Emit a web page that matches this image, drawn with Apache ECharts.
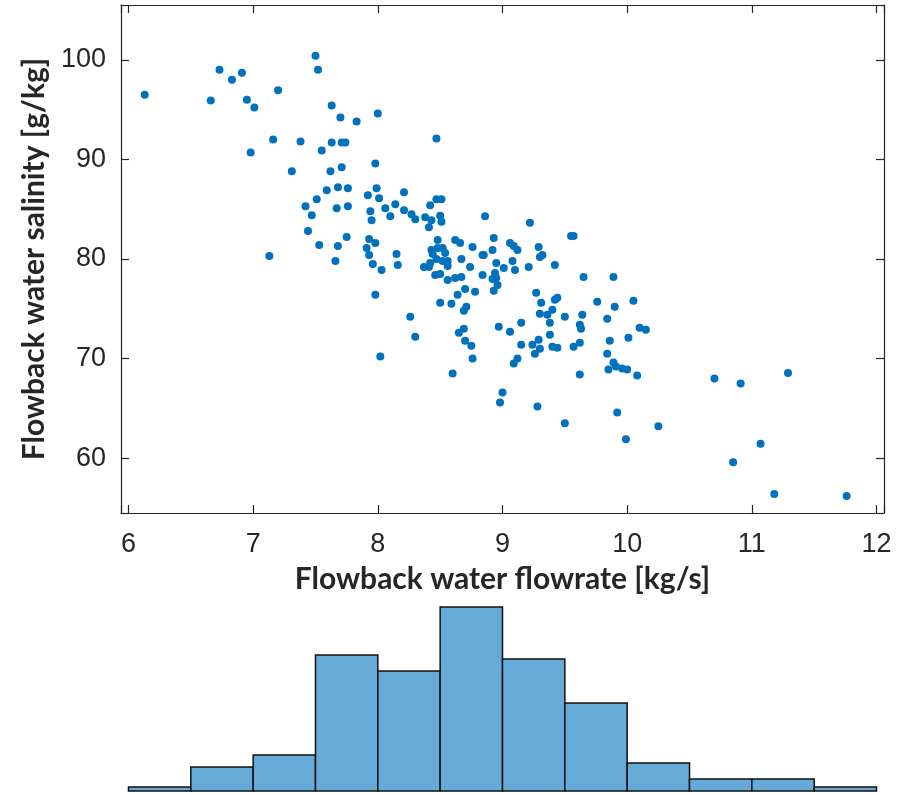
<!DOCTYPE html>
<html lang="en">
<head>
  <meta charset="utf-8">
  <title>Flowback water salinity vs flowrate</title>
  <script src="https://cdn.jsdelivr.net/npm/echarts@6/dist/echarts.min.js"></script>
  <style>
    html, body { margin: 0; padding: 0; background: #fff; }
    #chart { width: 915px; height: 794px; }
  </style>
</head>
<body>
<div id="chart"></div>
<script type="text/javascript">

  // flowrate [kg/s] and salinity [g/kg] of each sample
  const flowrate = [
    6.13, 6.73, 6.83, 6.91, 6.66, 6.95, 7.01, 7.20, 6.98, 7.16, 7.50, 7.52, 7.63, 7.70, 7.83, 8.00,
    7.38, 7.55, 7.63, 7.71, 7.74, 7.31, 7.62, 7.71, 7.98, 7.59, 7.68, 7.76, 7.99, 7.92, 8.01, 7.51,
    7.42, 7.47, 7.67, 7.76, 7.94, 7.95, 7.44, 7.53, 7.68, 7.75, 7.93, 7.98, 7.91, 7.93, 7.13, 7.66,
    8.47, 8.21, 8.06, 8.14, 8.10, 8.21, 8.27, 8.30, 8.47, 8.51, 8.42, 8.38, 8.43, 8.41, 8.50, 8.51,
    8.86, 9.22, 7.96, 8.03, 7.98, 8.15, 8.16, 8.48, 8.43, 8.48, 8.52, 8.54, 8.44, 8.47, 8.52, 8.56,
    8.56, 8.37, 8.41, 8.42, 8.46, 8.50, 8.56, 8.62, 8.66, 8.76, 8.67, 8.74, 8.62, 8.67, 8.84, 8.85,
    8.84, 8.92, 8.93, 9.06, 9.09, 9.12, 8.95, 9.01, 8.94, 8.95, 8.92, 8.96, 8.93, 9.08, 9.10, 9.21,
    9.29, 9.30, 9.32, 9.42, 8.70, 8.64, 8.59, 8.50, 8.78, 8.71, 8.69, 8.26, 8.30, 8.02, 8.65, 8.69,
    8.70, 8.75, 8.76, 8.97, 9.06, 9.15, 9.15, 9.12, 9.27, 9.31, 9.30, 9.36, 9.40, 9.42, 9.44, 9.38,
    9.38, 9.40, 9.44, 9.24, 9.29, 9.30, 9.26,
    9.65, 9.89, 9.55, 9.57, 9.76, 9.90, 10.05, 9.84, 9.64, 9.50, 9.62, 9.63, 10.10, 10.15, 10.01, 9.86,
    9.62, 9.57, 9.84, 9.89, 9.91, 9.96, 10.00, 9.85, 10.08, 9.62, 9.00, 8.98, 9.28, 9.50, 9.92, 10.25,
    9.99, 8.60, 9.09,
    10.70, 10.91, 11.29, 11.07, 10.85, 11.18, 11.76
  ];
  const salinity = [
    96.5, 99.0, 98.0, 98.7, 95.9, 96.0, 95.2, 96.95, 90.7, 92.0, 100.4, 99.0, 95.4, 94.2, 93.8, 94.6,
    91.8, 90.9, 91.7, 91.7, 91.7, 88.8, 88.8, 89.2, 89.6, 86.9, 87.2, 87.1, 87.1, 86.4, 86.1, 86.0,
    85.3, 84.4, 85.1, 85.3, 84.8, 83.9, 82.8, 81.4, 81.3, 82.2, 82.0, 81.6, 81.1, 80.4, 80.3, 79.8,
    92.1, 86.7, 85.1, 85.5, 84.3, 84.9, 84.5, 84.0, 86.0, 86.0, 85.4, 84.2, 83.9, 83.2, 84.35, 83.75,
    84.3, 83.65, 79.5, 78.9, 76.4, 80.5, 79.4, 81.9, 80.9, 81.1, 81.1, 80.6, 80.5, 80.0, 79.8, 79.8,
    79.3, 79.2, 79.2, 79.6, 78.4, 78.5, 77.9, 81.9, 81.6, 81.2, 80.0, 79.2, 78.1, 78.2, 80.4, 80.4,
    78.4, 80.9, 82.1, 81.6, 81.3, 80.9, 79.6, 79.1, 78.6, 78.1, 78.0, 77.4, 76.8, 79.8, 78.9, 79.2,
    81.2, 80.2, 80.4, 79.4, 77.0, 76.4, 75.5, 75.6, 76.7, 75.2, 74.8, 74.2, 72.2, 70.2, 72.6, 73.0,
    71.8, 71.3, 70.0, 73.2, 72.7, 73.6, 71.4, 70.0, 76.6, 75.6, 74.5, 74.4, 74.9, 75.9, 76.1, 73.6,
    72.4, 71.2, 71.1, 71.4, 71.9, 71.0, 70.5,
    78.2, 78.2, 82.3, 82.3, 75.7, 75.2, 75.8, 74.0, 74.4, 74.2, 73.4, 73.0, 73.1, 72.9, 72.1, 71.8,
    71.6, 71.2, 70.5, 69.6, 69.2, 69.0, 68.9, 68.9, 68.3, 68.4, 66.6, 65.6, 65.2, 63.5, 64.6, 63.2,
    61.9, 68.5, 69.5,
    68.0, 67.5, 68.55, 61.45, 59.6, 56.4, 56.2
  ];

  // histogram of flowrate: bin edges (width 0.5) and counts
  const binEdges = [6, 6.5, 7, 7.5, 8, 8.5, 9, 9.5, 10, 10.5, 11, 11.5, 12];
  const binCounts = [1, 6, 9, 34, 30, 46, 33, 22, 7, 3, 3, 1];

  const points = flowrate.map((x, i) => [x, salinity[i]]);
  const bins = binCounts.map((c, i) => [binEdges[i], binEdges[i + 1], c]);

  const axisColor = '#262626';
  const labelFont = { color: axisColor, fontSize: 27, fontFamily: '"Liberation Sans Narrow", "Liberation Sans"' };
  const titleFont = { color: axisColor, fontSize: 30, fontWeight: 'bold', fontFamily: 'Lato' };

  // only label the round ticks, not the limits
  const xLabel = v => Number.isInteger(v) ? String(v) : '';
  const yLabel = v => (v % 10 === 0) ? String(v) : '';

  const xMin = 5.94, xMax = 12.06;
  const yMin = 54.5, yMax = 105.5;

  const boxAxis = {
    axisLine: { show: true, lineStyle: { color: axisColor, width: 1.2 } },
    axisTick: { show: true, inside: true, length: 8, lineStyle: { color: axisColor, width: 1.2 } },
    splitLine: { show: false }
  };

  const chart = echarts.init(document.getElementById('chart'), null, { renderer: 'canvas' });

  chart.setOption({
    animation: false,
    backgroundColor: '#fff',
    grid: [
      { left: 121, right: 31, top: 5, height: 508 },
      { left: 121, right: 31, top: 607, height: 184 }
    ],
    xAxis: [
      Object.assign({
        type: 'value', gridIndex: 0, min: xMin, max: xMax, position: 'bottom',
        axisLabel: Object.assign({ formatter: xLabel, margin: 18 }, labelFont),
        name: 'Flowback water flowrate [kg/s]', nameLocation: 'middle', nameGap: 51,
        nameMoveOverlap: false,
        nameTextStyle: titleFont
      }, boxAxis),
      Object.assign({
        type: 'value', gridIndex: 0, min: xMin, max: xMax, position: 'top',
        axisLabel: { show: false }
      }, boxAxis),
      { type: 'value', gridIndex: 1, min: xMin, max: xMax, show: false }
    ],
    yAxis: [
      Object.assign({
        type: 'value', gridIndex: 0, min: yMin, max: yMax, position: 'left',
        axisLabel: Object.assign({ formatter: yLabel, margin: 15 }, labelFont),
        name: 'Flowback water salinity [g/kg]', nameLocation: 'middle', nameGap: 72,
        nameMoveOverlap: false,
        nameTextStyle: titleFont
      }, boxAxis),
      Object.assign({
        type: 'value', gridIndex: 0, min: yMin, max: yMax, position: 'right',
        axisLabel: { show: false }
      }, boxAxis),
      { type: 'value', gridIndex: 1, min: 0, max: 46, show: false }
    ],
    series: [
      {
        type: 'scatter',
        xAxisIndex: 0, yAxisIndex: 0,
        data: points,
        symbolSize: 8,
        itemStyle: { color: '#0072bd', opacity: 1 }
      },
      {
        type: 'custom',
        xAxisIndex: 2, yAxisIndex: 2,
        data: bins,
        encode: { x: [0, 1], y: 2 },
        renderItem: function (params, api) {
          const p0 = api.coord([api.value(0), 0]);
          const p1 = api.coord([api.value(1), api.value(2)]);
          return {
            type: 'rect',
            shape: { x: p0[0], y: p1[1], width: p1[0] - p0[0], height: p0[1] - p1[1] },
            style: { fill: '#66aad7', stroke: '#111', lineWidth: 1.5 }
          };
        }
      }
    ]
  });

</script>
</body>
</html>
